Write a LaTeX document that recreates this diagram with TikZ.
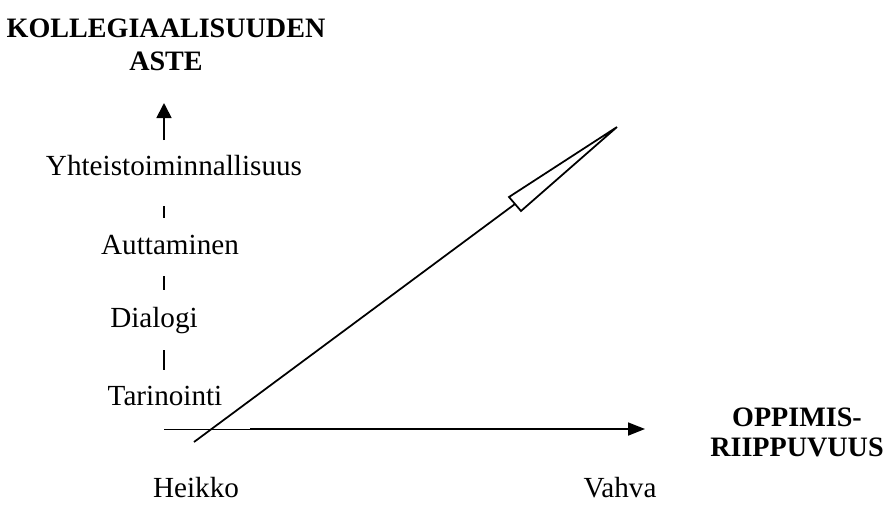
\documentclass[tikz,border=0pt]{standalone}
\usepackage{fontspec}
\setmainfont{Liberation Serif}
\usetikzlibrary{arrows.meta}
\tikzset{
  lbl/.style={font=\fontsize{16.6}{19}\selectfont, inner sep=0pt},
  hdr/.style={font=\fontsize{16}{19}\selectfont\bfseries, inner sep=0pt, align=center},
  axis/.style={line width=1pt}
}
\begin{document}
\begin{tikzpicture}[x=0.02cm,y=-0.02cm]
        \useasboundingbox (0,0) rectangle (887,505);
        \def\xaxis{164}

        \node (aste) at (166,45) [hdr] {KOLLEGIAALISUUDEN\\ASTE};
        \node (yhteis) at (174,166) [lbl] {Yhteistoiminnallisuus};
        \node (autt) at (170,245) [lbl] {Auttaminen};
        \node (dial) at (154,321) [lbl] {Dialogi};
        \node (tarin) at (165,396) [lbl] {Tarinointi};
        \node (heikko) at (196,488) [lbl] {Heikko};
        \node (vahva) at (620,488) [lbl] {Vahva};
        \node (oppim) at (797,432) [hdr, font=\fontsize{16}{17}\selectfont\bfseries] {OPPIMIS-\\RIIPPUVUUS};

        \coordinate (ybot) at (\xaxis,140);
        \coordinate (ytop) at (\xaxis,103);
        \draw[axis,-{Triangle[length=0.3cm,width=0.3cm]}] (ybot) -- (ytop);
        \draw[line width=0.9pt] (\xaxis,206) -- (\xaxis,218);
        \draw[line width=0.9pt] (\xaxis,276) -- (\xaxis,290);
        \draw[line width=0.9pt] (\xaxis,350) -- (\xaxis,370);

        \coordinate (orig) at (\xaxis,429);
        \coordinate (xmid) at (250,429);
        \coordinate (xend) at (645,429);
        \draw[line width=0.5pt] (orig) -- (xmid);
        \draw[axis,-{Triangle[length=0.34cm,width=0.26cm]}] (xmid) -- (xend);

        \coordinate (dstart) at (194,442);
        \coordinate (dbase) at (515,204);
        \coordinate (dtip) at (617,127);
        \draw[axis] (dstart) -- (dbase);
        \draw[axis,line join=miter] (dtip) -- (509,197) -- (521,211) -- cycle;
\end{tikzpicture}
\end{document}
